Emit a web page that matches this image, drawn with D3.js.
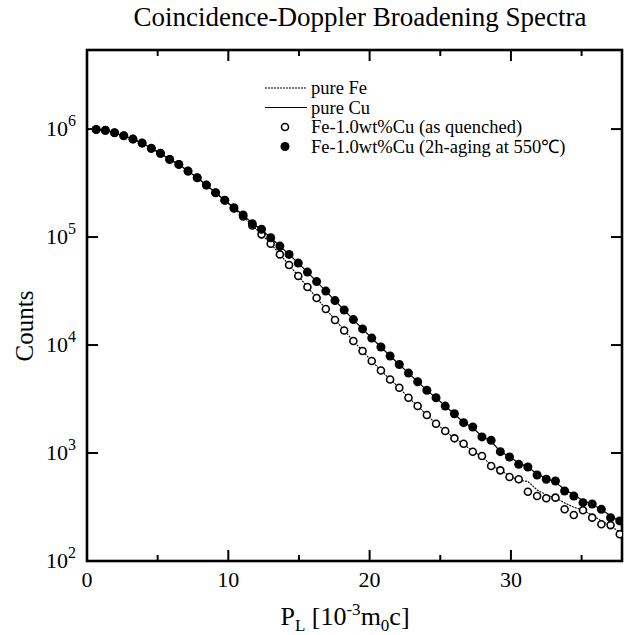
<!DOCTYPE html>
<html><head><meta charset="utf-8">
<script src="https://cdn.jsdelivr.net/npm/d3@7"></script>
<style>body{margin:0;background:#fff}svg{display:block}text{font-family:"Liberation Serif","Times New Roman",serif;fill:#000}</style>
</head><body><div id="chart"></div>
<script>
// ---- data ----
const momentum = d3.range(58).map(k => +(0.65 * (k + 1)).toFixed(2)); // P_L grid [10^-3 m0c]
const quenched = [990000,973000,924000,867000,808000,742000,663000,596000,524000,471000,408000,354000,303000,257000,219000,
 183600,154800,127800,105900,86700,69100,55050,43550,34440,27240,21540,17040,13630,10890,8800,7110,5806,4793,4023,3251,
 2724,2248,1867,1598,1368,1220,1028,938,758,691,600,571,438,400,381,386,301,267,295,252,219,215,177];
const aged = [990000,973000,924000,867000,808000,742000,663000,596000,524000,471000,408000,354000,303000,257000,219000,
 187000,160000,133000,118000,98500,82500,69100,57400,47400,38700,31600,25800,21100,17200,14100,11600,9580,7910,6600,5500,
 4570,3810,3250,2720,2310,1910,1740,1410,1310,1030,918,786,742,626,571,551,445,400,347,337,301,252,235];
const pureFe = [990000,973000,924000,867000,808000,742000,663000,596000,524000,471000,408000,354000,303000,257000,219000,
 184000,155000,128000,106000,87000,69300,55200,43700,34500,27300,21600,17100,13700,10900,8820,7120,5810,4800,4020,3260,
 2720,2250,1870,1600,1370,1210,1035,930,770,691,615,560,545,455,410,385,345,315,295,265,235,212,185];
const pureCu = [990000,973000,924000,867000,808000,742000,663000,596000,524000,471000,408000,354000,303000,257000,219000,
 187000,160000,134000,117000,98500,82500,69100,57400,47400,38700,31600,25800,21100,17200,14100,11600,9580,7910,6600,5500,
 4580,3800,3240,2730,2300,1920,1720,1420,1290,1030,925,810,740,640,580,535,460,410,362,335,300,262,232];
const xTicksMajor = [0, 10, 20, 30];
const xTicksMinor = [5, 15, 25, 35];
const yTicks = [1e2, 1e3, 1e4, 1e5, 1e6];
const yTickExp = ["2", "3", "4", "5", "6"];
const legendItems = [
  {label: "pure Fe", type: "dash"},
  {label: "pure Cu", type: "line"},
  {label: "Fe-1.0wt%Cu (as quenched)", type: "open"},
  {label: "Fe-1.0wt%Cu (2h-aging at 550\u2103)", type: "filled"}
];

// ---- layout ----
const W = 624, H = 635;
const m = {left: 87, right: 2, top: 50, bottom: 74};
const svg = d3.select("#chart").append("svg").attr("width", W).attr("height", H);
const x = d3.scaleLinear().domain([0, 37.86]).range([m.left, W - m.right]);
const y = d3.scaleLog().domain([100, 5.4e6]).range([H - m.bottom, m.top]);
const pB = H - m.bottom, pT = m.top, pL = m.left, pR = W - m.right;

// title
svg.append("text").attr("x", 360).attr("y", 26).attr("text-anchor", "middle")
  .attr("font-size", 27).text("Coincidence-Doppler Broadening Spectra");

// ticks (inward)
const g = svg.append("g");
xTicksMajor.concat(xTicksMinor).forEach(v => {
  const len = xTicksMajor.includes(v) ? 11 : 6;
  g.append("line").attr("x1", x(v)).attr("x2", x(v)).attr("y1", pB).attr("y2", pB - len).attr("stroke", "#000").attr("stroke-width", 2);
  g.append("line").attr("x1", x(v)).attr("x2", x(v)).attr("y1", pT).attr("y2", pT + len).attr("stroke", "#000").attr("stroke-width", 2);
});
yTicks.forEach(v => {
  g.append("line").attr("x1", pL).attr("x2", pL + 11).attr("y1", y(v)).attr("y2", y(v)).attr("stroke", "#000").attr("stroke-width", 2);
  g.append("line").attr("x1", pR).attr("x2", pR - 11).attr("y1", y(v)).attr("y2", y(v)).attr("stroke", "#000").attr("stroke-width", 2);
});
// tick labels
xTicksMajor.forEach(v => {
  svg.append("text").attr("x", x(v)).attr("y", pB + 26).attr("text-anchor", "middle").attr("font-size", 22).text(v);
});
yTicks.forEach((v, i) => {
  const t = svg.append("text").attr("x", 76).attr("y", y(v) + 7).attr("text-anchor", "end").attr("font-size", 22);
  t.append("tspan").text("10");
  t.append("tspan").attr("font-size", 16).attr("dy", -10).text(yTickExp[i]);
});

// frame
svg.append("rect").attr("x", pL).attr("y", pT).attr("width", pR - pL).attr("height", pB - pT)
  .attr("fill", "none").attr("stroke", "#000").attr("stroke-width", 2.6);

// axis titles
const xl = svg.append("text").attr("x", 345).attr("y", 625).attr("text-anchor", "middle").attr("font-size", 26);
xl.append("tspan").text("P");
xl.append("tspan").attr("font-size", 17).attr("dy", 6).text("L");
xl.append("tspan").attr("dy", -6).text(" [10");
xl.append("tspan").attr("font-size", 17).attr("dy", -10).text("-3");
xl.append("tspan").attr("dy", 10).text("m");
xl.append("tspan").attr("font-size", 17).attr("dy", 6).text("0");
xl.append("tspan").attr("dy", -6).text("c]");
svg.append("text").attr("transform", "translate(33,326) rotate(-90)").attr("text-anchor", "middle")
  .attr("font-size", 25).text("Counts");

// curves
svg.append("clipPath").attr("id", "clip").append("rect")
  .attr("x", pL).attr("y", pT).attr("width", pR - pL).attr("height", pB - pT);
const plot = svg.append("g").attr("clip-path", "url(#clip)");
const line = d3.line().x((d, i) => x(momentum[i])).y(d => y(d));
plot.append("path").datum(pureFe).attr("d", line).attr("fill", "none").attr("stroke", "#000").attr("stroke-width", 1.1).attr("stroke-dasharray", "2,1");
plot.append("path").datum(pureCu).attr("d", line).attr("fill", "none").attr("stroke", "#000").attr("stroke-width", 1.2);
plot.selectAll("circle.q").data(quenched).join("circle").attr("class", "q")
  .attr("cx", (d, i) => x(momentum[i])).attr("cy", d => y(d)).attr("r", 3.5)
  .attr("fill", "#fff").attr("stroke", "#000").attr("stroke-width", 1.6);
plot.selectAll("circle.a").data(aged).join("circle").attr("class", "a")
  .attr("cx", (d, i) => x(momentum[i])).attr("cy", d => y(d)).attr("r", 4.5)
  .attr("fill", "#000");

// legend
const lg = svg.append("g");
legendItems.forEach((it, i) => {
  const yy = 88 + i * 19.5;
  if (it.type === "dash" || it.type === "line") {
    lg.append("line").attr("x1", 265).attr("x2", 307).attr("y1", yy).attr("y2", yy)
      .attr("stroke", "#000").attr("stroke-width", 1.2).attr("stroke-dasharray", it.type === "dash" ? "2,1" : null);
  } else if (it.type === "open") {
    lg.append("circle").attr("cx", 285).attr("cy", yy).attr("r", 3.5).attr("fill", "#fff").attr("stroke", "#000").attr("stroke-width", 1.6);
  } else {
    lg.append("circle").attr("cx", 285).attr("cy", yy).attr("r", 4.5).attr("fill", "#000");
  }
  lg.append("text").attr("x", 311).attr("y", yy + 6).attr("font-size", 18.5).text(it.label);
});
</script></body></html>
